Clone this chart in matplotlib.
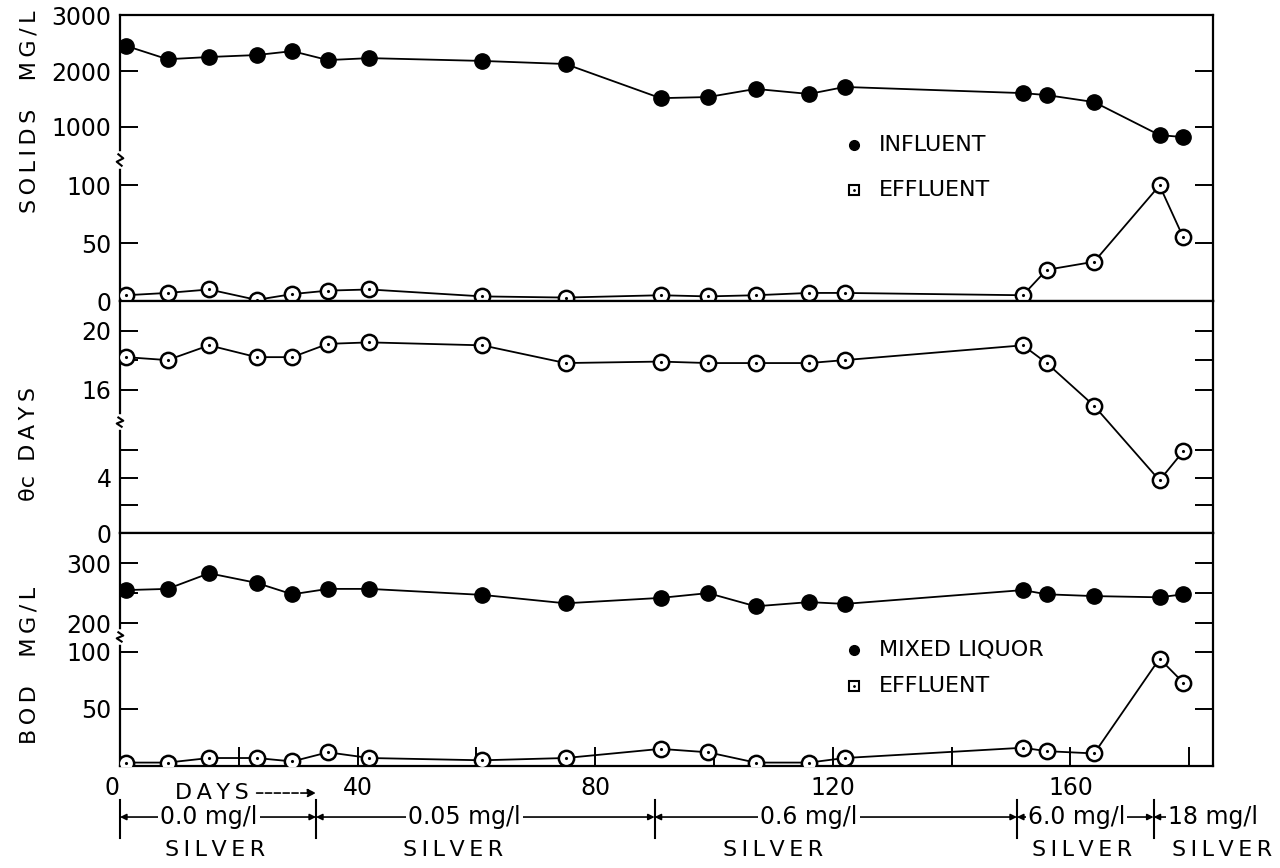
import numpy as np
import matplotlib.pyplot as plt

# sampling days (shared by every series)
days = [1, 8, 15, 23, 29, 35, 42, 61, 75, 91, 99, 107, 116, 122, 152, 156, 164, 175, 179]

solids_influent = [2450, 2210, 2250, 2285, 2355, 2195, 2230, 2180, 2125, 1515, 1535,
                   1680, 1590, 1715, 1605, 1570, 1445, 855, 820]
solids_effluent = [5, 7, 10, 1, 6, 9, 10, 4, 3, 5, 4, 5, 7, 7, 5, 27, 34, 100, 55]
theta_c = [18.2, 18.0, 19.0, 18.2, 18.2, 19.1, 19.2, 19.0, 17.8, 17.9, 17.8, 17.8,
           17.8, 18.0, 19.0, 17.8, 14.9, 3.8, 5.9]
bod_mixed = [255, 257, 283, 267, 248, 257, 257, 247, 233, 242, 250, 228, 235, 232,
             255, 248, 245, 243, 248]
bod_effluent = [3, 3, 7, 7, 4, 12, 7, 5, 7, 15, 12, 3, 3, 7, 16, 13, 11, 94, 73]

# silver dosing periods
dose_start = [0, 33, 90, 151, 174]
dose_labels = ['0.0 mg/l', '0.05 mg/l', '0.6 mg/l', '6.0 mg/l', '18 mg/l']

x_major = [0, 40, 80, 120, 160]
x_minor = [20, 60, 100, 140, 180]

plt.rcParams['font.family'] = 'DejaVu Sans'

fig = plt.figure(figsize=(12.8, 8.68), dpi=100)
L, W = 0.09375, 0.8539
ax1 = fig.add_axes([L, 0.6532, W, 0.3295])
ax2 = fig.add_axes([L, 0.3859, W, 0.2673])
ax3 = fig.add_axes([L, 0.1175, W, 0.2684])


def spaced(s):
    # open up the lettering with thin spaces
    return '\u2009'.join(s).replace('\u2009 \u2009', '    ')


def broken_scale(ax, lo, hi, split):
    # two linear pieces: lo range fills the bottom `split` of the axes, hi the rest
    src = [lo[0], lo[1], hi[0], hi[1]]
    dst = [0.0, split, split + 1e-6, 1.0]
    ax.set_yscale('function',
                  functions=(lambda y: np.interp(y, src, dst),
                             lambda t: np.interp(t, dst, src)))
    ax.set_ylim(lo[0], hi[1])


def break_mark(ax, frac):
    t = ax.transAxes
    ax.plot([0, 0], [frac - 0.02, frac + 0.02], color='white', lw=4,
            transform=t, clip_on=False, zorder=5)
    ax.plot([0.0015, -0.003, 0.003, -0.0015], [frac - 0.02, frac - 0.006, frac + 0.006, frac + 0.02],
            color='black', lw=1.5, transform=t, clip_on=False, zorder=6)


def open_series(ax, x, y):
    ax.plot(x, y, '-o', color='black', lw=1.3, ms=11, mfc='white', mec='black', mew=1.8, zorder=3)
    ax.plot(x, y, '.', color='black', ms=2.5, zorder=4)


def solid_series(ax, x, y):
    ax.plot(x, y, '-o', color='black', lw=1.3, ms=11, mfc='black', mec='black', zorder=3)


for ax in (ax1, ax2, ax3):
    ax.set_xlim(0, 184)
    for s in ax.spines.values():
        s.set_linewidth(1.6)
    ax.tick_params(axis='y', direction='in', length=13, width=1.4, right=True,
                   labelsize=17, pad=6)
    ax.tick_params(axis='x', bottom=False, labelbottom=False)

# solids
broken_scale(ax1, (0, 122), (410, 3000), 0.493)
solid_series(ax1, days, solids_influent)
open_series(ax1, days, solids_effluent)
ax1.set_yticks([0, 50, 100, 1000, 2000, 3000])
ax1.set_yticklabels(['0', '50', '100', '1000', '2000', '3000'])
break_mark(ax1, 0.493)

# sludge age
broken_scale(ax2, (0, 8), (13.8, 22), 0.478)
open_series(ax2, days, theta_c)
ax2.set_yticks([0, 2, 4, 6, 16, 18, 20])
ax2.set_yticklabels(['0', '', '4', '', '16', '', '20'])
break_mark(ax2, 0.478)

# BOD
broken_scale(ax3, (0, 113), (177, 350), 0.554)
solid_series(ax3, days, bod_mixed)
open_series(ax3, days, bod_effluent)
ax3.set_yticks([0, 50, 100, 200, 250, 300])
ax3.set_yticklabels(['', '50', '100', '200', '', '300'])
break_mark(ax3, 0.554)

ax3.set_xticks(x_major)
ax3.set_xticks(x_minor, minor=True)
ax3.set_xticklabels([str(v) for v in x_major])
ax3.tick_params(axis='x', which='both', bottom=True, labelbottom=True, direction='in',
                length=14, width=1.4, labelsize=17, pad=7)
ax3.get_xticklabels()[0].set_ha('right')

# legends
for ax, y0, y1, name in ((ax1, 0.545, 0.388, 'INFLUENT'), (ax3, 0.498, 0.343, 'MIXED LIQUOR')):
    x0 = 0.672
    ax.plot([x0], [y0], 'o', color='black', ms=7, transform=ax.transAxes)
    ax.plot([x0], [y1], 's', color='black', ms=7, mfc='white', mew=1.5, transform=ax.transAxes)
    ax.plot([x0], [y1], '.', color='black', ms=2, transform=ax.transAxes)
    ax.text(x0 + 0.022, y0, name, transform=ax.transAxes, va='center', fontsize=16)
    ax.text(x0 + 0.022, y1, 'EFFLUENT', transform=ax.transAxes, va='center', fontsize=16)

# axis titles
fig.text(0.023, 0.871, spaced('SOLIDS MG/L'), rotation=90, ha='center', va='center', fontsize=16)
fig.text(0.023, 0.488, 'θc  ' + spaced('DAYS'), rotation=90, ha='center', va='center', fontsize=16)
fig.text(0.023, 0.233, spaced('BOD MG/L'), rotation=90, ha='center', va='center', fontsize=16)

# days arrow and dosing periods under the time axis
tr = ax3.get_xaxis_transform()
ax3.text(15.5, -0.116, spaced('DAYS'), transform=tr, ha='center', va='center', fontsize=16)
ax3.annotate('', xy=(33, -0.116), xytext=(23, -0.116), xycoords=tr, textcoords=tr,
             arrowprops=dict(arrowstyle='-|>', lw=1.2, linestyle='--', color='black',
                             shrinkA=0, shrinkB=0, mutation_scale=12),
             annotation_clip=False)

row1, row2 = -0.219, -0.36
label_x = [15, 58, 116, 161, 184]
silver_x = [16, 56, 110, 162, 185.5]
dose_end = dose_start[1:] + [190]
for a, b, lab, lx, sx in zip(dose_start, dose_end, dose_labels, label_x, silver_x):
    ax3.annotate('', xy=(a, row1), xytext=(b, row1), xycoords=tr, textcoords=tr,
                 arrowprops=dict(arrowstyle='<|-|>', lw=1.2, color='black',
                                 shrinkA=0, shrinkB=0, mutation_scale=9),
                 annotation_clip=False, zorder=2)
    ax3.plot([a, a], [-0.146, -0.309], color='black', lw=1.5, transform=tr, clip_on=False)
    ax3.text(lx, row1, lab, transform=tr, ha='center', va='center', fontsize=17, zorder=4,
             bbox=dict(facecolor='white', edgecolor='none', pad=1.5))
    ax3.text(sx, row2, spaced('SILVER'), transform=tr, ha='center', va='center', fontsize=16)

fig.savefig('out.png', dpi=100)
